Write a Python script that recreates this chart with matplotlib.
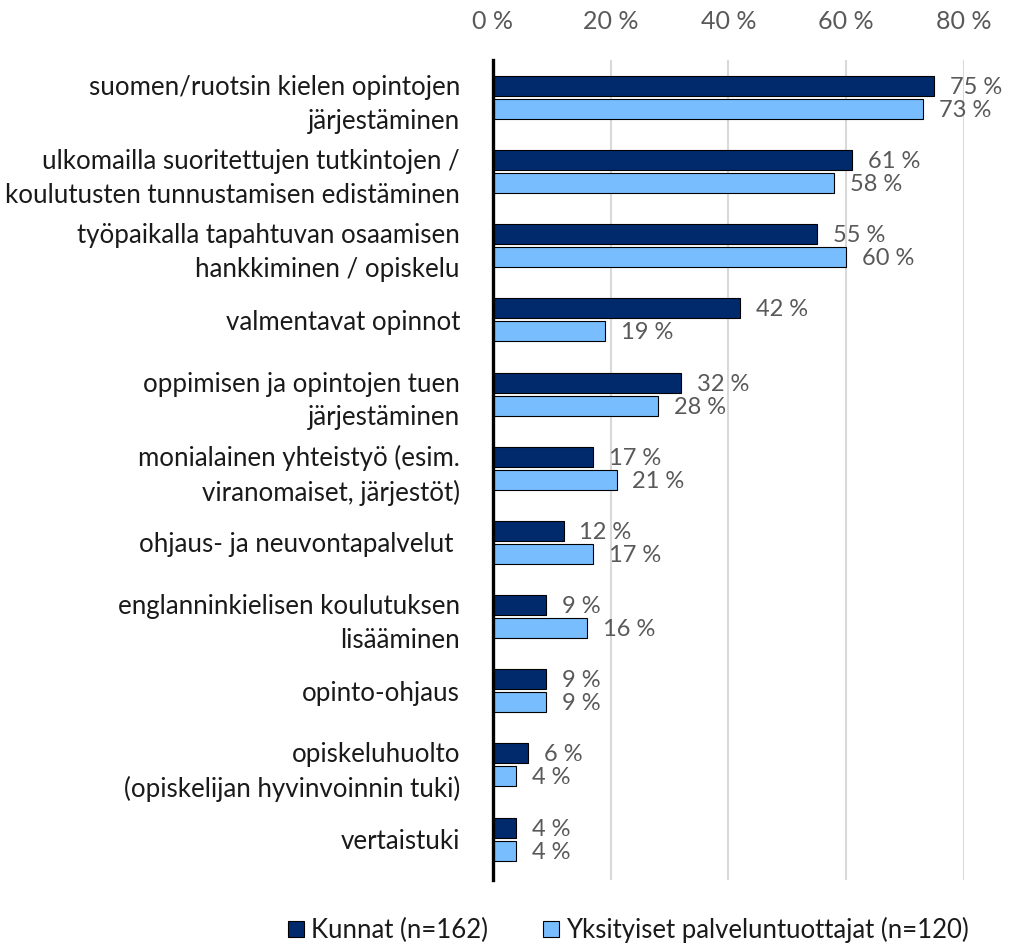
import numpy as np
import matplotlib
matplotlib.use("Agg")
import matplotlib.pyplot as plt
from matplotlib.patches import Patch

plt.rcParams['font.family'] = ['Lato', 'DejaVu Sans']

categories = [
    "suomen/ruotsin kielen opintojen\njärjestäminen",
    "ulkomailla suoritettujen tutkintojen /\nkoulutusten tunnustamisen edistäminen",
    "työpaikalla tapahtuvan osaamisen\nhankkiminen / opiskelu",
    "valmentavat opinnot",
    "oppimisen ja opintojen tuen\njärjestäminen",
    "monialainen yhteistyö (esim.\nviranomaiset, järjestöt)",
    "ohjaus- ja neuvontapalvelut ",
    "englanninkielisen koulutuksen\nlisääminen",
    "opinto-ohjaus",
    "opiskeluhuolto\n(opiskelijan hyvinvoinnin tuki)",
    "vertaistuki",
]
kunnat = [75, 61, 55, 42, 32, 17, 12, 9, 9, 6, 4]
yksityiset = [73, 58, 60, 19, 28, 21, 17, 16, 9, 4, 4]
series_names = ["Kunnat (n=162)", "Yksityiset palveluntuottajat (n=120)"]
xticks = [0, 20, 40, 60, 80]

dark = "#002a6c"
light = "#78bdfd"
text_col = "#1a1a1a"
label_col = "#595959"

fig = plt.figure(figsize=(10.10, 9.43), dpi=100)
ax = fig.add_axes([0.488, 0.067, 0.4663, 0.869])

y = np.arange(len(categories))
h = 0.27
off = 0.155
b1 = ax.barh(y - off, kunnat, height=h, color=dark, edgecolor="black", linewidth=0.8, zorder=3)
b2 = ax.barh(y + off, yksityiset, height=h, color=light, edgecolor="black", linewidth=0.8, zorder=3)

for bars, vals in ((b1, kunnat), (b2, yksityiset)):
    for bar, v in zip(bars, vals):
        ax.text(v + 2.7, bar.get_y() + bar.get_height() / 2 + 0.02, f"{v} %",
                va="center", ha="left", fontsize=17, color=label_col, clip_on=False)

ax.set_xlim(0, 80)
ax.set_ylim(len(categories) - 0.45, -0.5)
ax.set_xticks(xticks)
ax.set_xticklabels([f"{t} %" for t in xticks])
ax.xaxis.tick_top()
ax.tick_params(axis="x", length=0, labelsize=18, labelcolor=label_col, pad=20)
ax.set_yticks(y)
ax.set_yticklabels(categories, fontsize=18.6, color=text_col, ha="right", linespacing=1.43)
ax.tick_params(axis="y", length=0, pad=23.7)
ax.grid(axis="x", color="#d9d9d9", linewidth=1.5, zorder=0)
for s in ("top", "right", "bottom"):
    ax.spines[s].set_visible(False)
ax.spines["left"].set_linewidth(2.4)
ax.spines["left"].set_zorder(4)

handles = [Patch(facecolor=dark, edgecolor="black", linewidth=0.8),
           Patch(facecolor=light, edgecolor="black", linewidth=0.8)]
fig.legend(handles, series_names, loc="center", bbox_to_anchor=(0.622, 0.0138), ncol=2,
           frameon=False, fontsize=18.5, handlelength=0.62, handleheight=0.62,
           handletextpad=0.27, columnspacing=2.14, labelcolor=text_col,
           borderpad=0, borderaxespad=0)

fig.savefig("out.png", dpi=100)
